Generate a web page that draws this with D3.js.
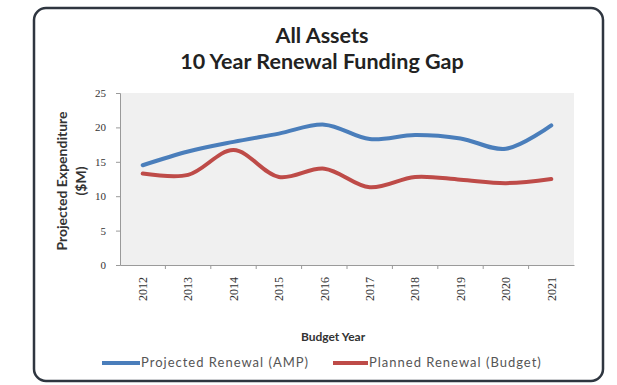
<!DOCTYPE html>
<html><head><meta charset="utf-8">
<script src="https://cdn.jsdelivr.net/npm/d3@7"></script>
<style>html,body{margin:0;padding:0;background:#fff;}svg{display:block;}</style>
</head><body>
<script>
const years = ["2012","2013","2014","2015","2016","2017","2018","2019","2020","2021"];
const projectedRenewal = [14.5,16.5,17.9,19.1,20.4,18.3,18.9,18.4,16.9,20.3];
const plannedRenewal = [13.3,13.1,16.7,12.8,14.0,11.3,12.8,12.4,11.9,12.5];
const yTicks = [0,5,10,15,20,25];
const seriesNames = ["Projected Renewal (AMP)","Planned Renewal (Budget)"];
const seriesColors = ["#4a7ebb","#be4b48"];

const W=617,H=385;
const svg=d3.select("body").append("svg").attr("width",W).attr("height",H);
svg.append("rect").attr("width",W).attr("height",H).attr("fill","#fff");
// frame
svg.append("rect").attr("x",34).attr("y",8).attr("width",569).attr("height",373)
  .attr("rx",12).attr("fill","#fff").attr("stroke","#2f3640").attr("stroke-width",2.5);

const m={l:120,r:574,t:93,b:265};
svg.append("rect").attr("x",m.l).attr("y",m.t).attr("width",m.r-m.l).attr("height",m.b-m.t).attr("fill","#f0f0f0");

const x=d3.scaleBand().domain(years).range([m.l,m.r]);
const y=d3.scaleLinear().domain([0,25]).range([m.b,m.t]);

// y axis
const ya=svg.append("g").attr("transform",`translate(${m.l},0)`)
  .call(d3.axisLeft(y).tickValues(yTicks).tickSize(4).tickPadding(10));
ya.select(".domain").attr("stroke","#9a9a9a");
ya.selectAll(".tick line").attr("stroke","#9a9a9a");
ya.selectAll("text").attr("font-family","Liberation Serif").attr("font-size",11).attr("fill","#333");

// x axis
const xa=svg.append("g").attr("transform",`translate(0,${m.b})`)
  .call(d3.axisBottom(x).tickSize(0).tickSizeOuter(0));
xa.select(".domain").attr("stroke","#9a9a9a");
xa.selectAll("text").attr("font-family","Liberation Serif").attr("font-size",12).attr("fill","#333")
  .attr("transform","rotate(-90)").attr("text-anchor","end").attr("dx","-12").attr("dy","0.35em").attr("x",0).attr("y",0);
// category boundary ticks
svg.append("g").selectAll("line").data(years.slice(1)).join("line")
  .attr("x1",d=>x(d)).attr("x2",d=>x(d)).attr("y1",m.b).attr("y2",m.b+4).attr("stroke","#9a9a9a");

const line=d3.line().x((d,i)=>x(years[i])+x.bandwidth()/2).y(d=>y(d)).curve(d3.curveCatmullRom.alpha(0.5));
[projectedRenewal,plannedRenewal].forEach((s,i)=>{
  svg.append("path").datum(s).attr("d",line).attr("fill","none")
    .attr("stroke",seriesColors[i]).attr("stroke-width",4).attr("stroke-linecap","round");
});

// titles
const tt=svg.append("text").attr("x",322).attr("font-family","Lato").attr("font-weight","bold")
  .attr("font-size",21.5).attr("fill","#222").attr("text-anchor","middle");
tt.append("tspan").attr("x",322).attr("y",43).text("All Assets");
tt.append("tspan").attr("x",322).attr("y",69).text("10 Year Renewal Funding Gap");

const yt=svg.append("text").attr("transform","translate(0,181) rotate(-90)").attr("font-family","Lato")
  .attr("font-weight","bold").attr("font-size",14).attr("fill","#333").attr("text-anchor","middle");
yt.append("tspan").attr("x",0).attr("y",67).text("Projected Expenditure");
yt.append("tspan").attr("x",0).attr("y",86).text("($M)");

svg.append("text").attr("x",333).attr("y",341).attr("text-anchor","middle").attr("font-family","Lato")
  .attr("font-weight","bold").attr("font-size",12).attr("fill","#333").text("Budget Year");

// legend
const lg=[{x1:102,x2:140},{x1:333,x2:368}];
seriesNames.forEach((n,i)=>{
  svg.append("line").attr("x1",lg[i].x1).attr("x2",lg[i].x2).attr("y1",363).attr("y2",363)
    .attr("stroke",seriesColors[i]).attr("stroke-width",4);
  svg.append("text").attr("x",lg[i].x2+1).attr("y",367).attr("font-family","Lato").attr("font-size",13)
    .attr("letter-spacing",1).attr("fill","#555").text(n);
});
</script>
</body></html>
